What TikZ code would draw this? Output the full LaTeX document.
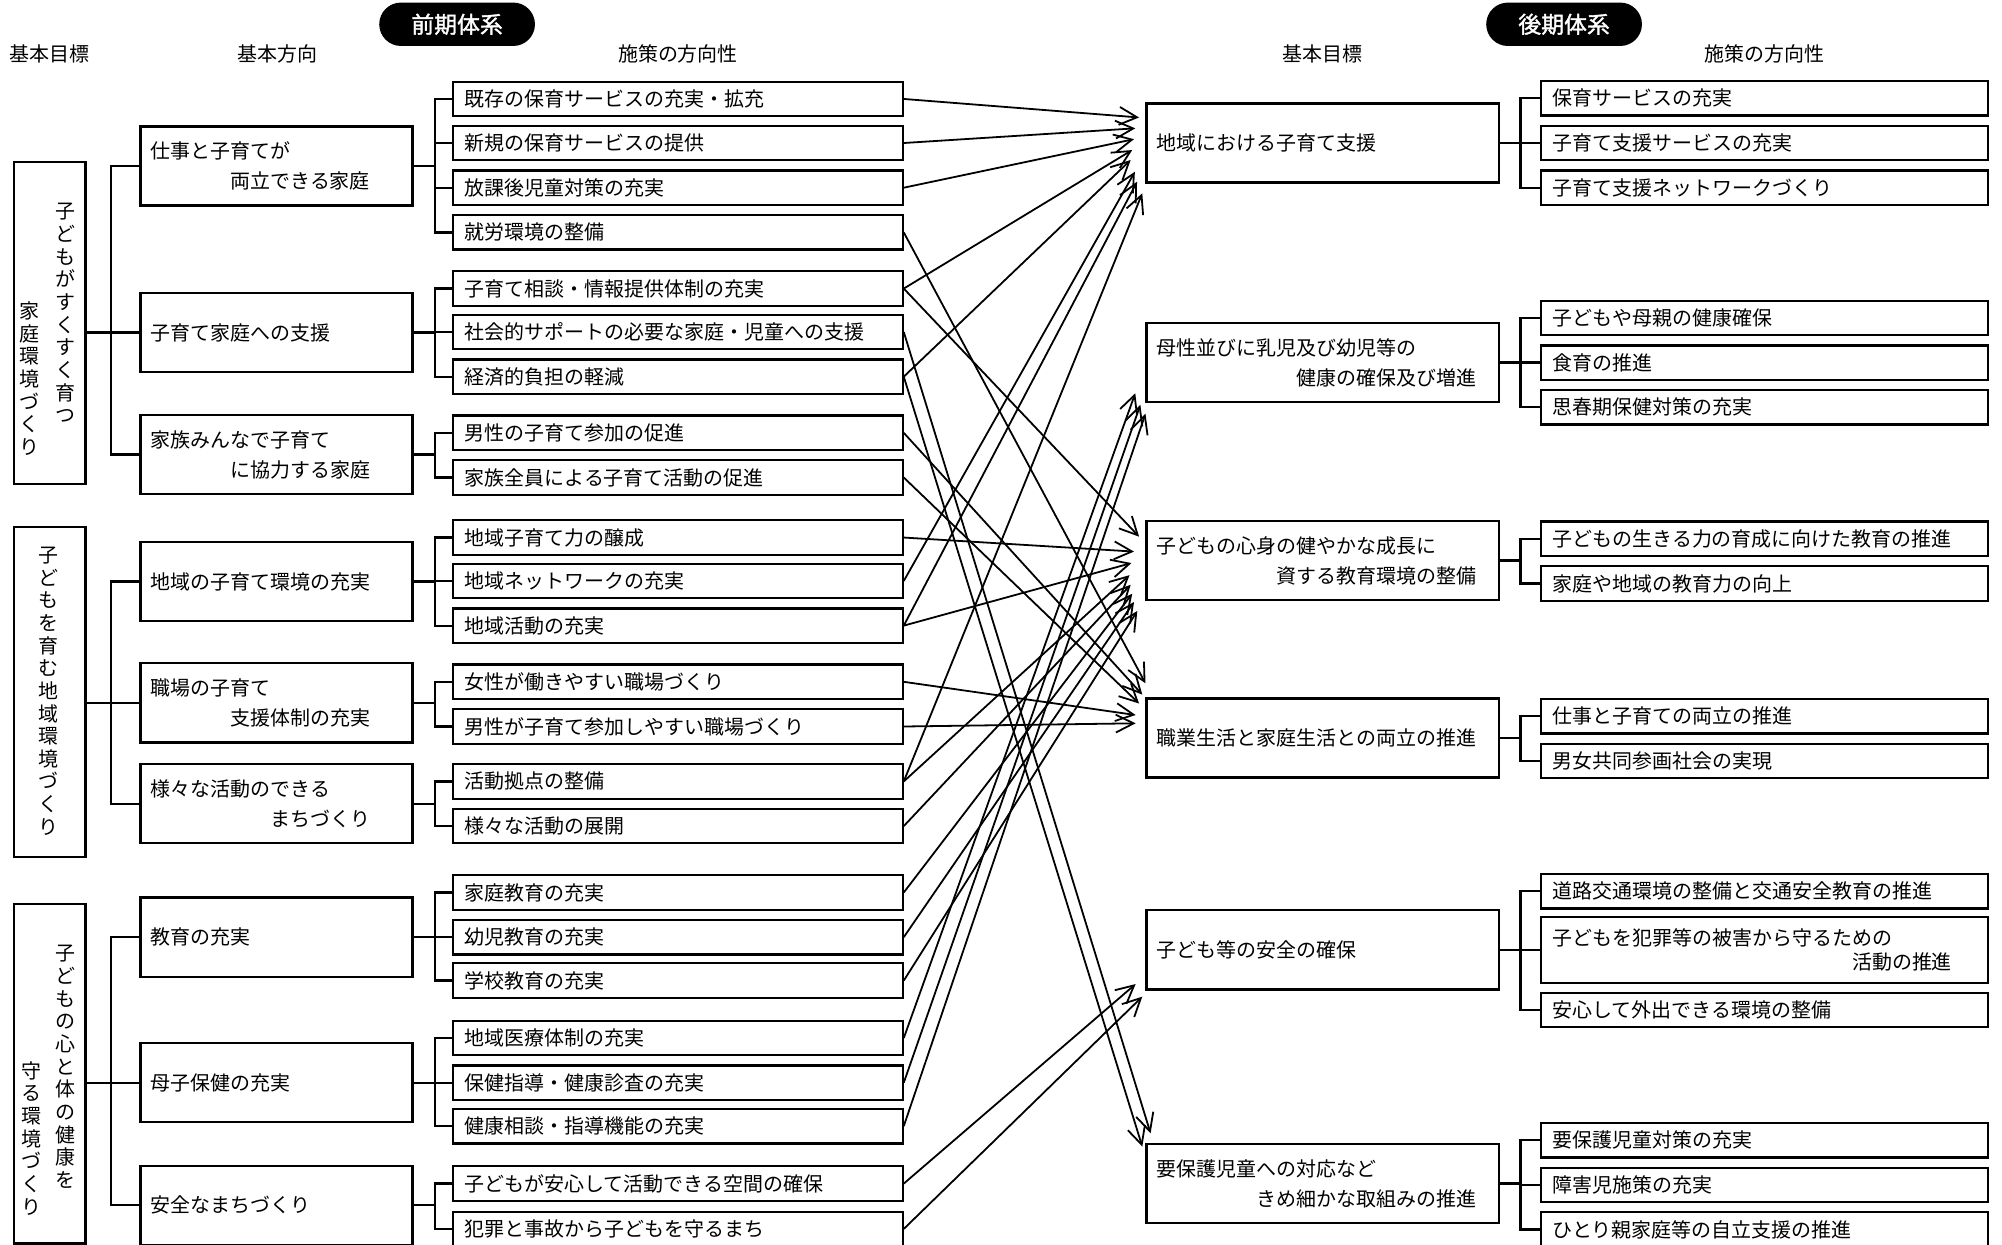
\documentclass[tikz,border=0pt]{standalone}
\usepackage{fontspec}
\setmainfont{Noto Sans CJK JP}
\newfontfamily\pillfont{Noto Sans CJK JP}[FakeBold=1.5]
\usepackage{tikz}
\usetikzlibrary{arrows.meta}

\begin{document}
\begin{tikzpicture}[x=0.02cm, y=-0.02cm,
    every node/.style={font=\fontsize{8.9}{13.4}\selectfont},
    goal/.style={draw, line width=1pt, minimum width=1.12cm, inner sep=0},
    tate/.style={align=center, inner sep=0, anchor=north, font=\fontsize{8.9}{10.1}\selectfont},
    dir/.style={draw, line width=1pt, minimum width=4.26cm, minimum height=1.24cm,
        text width=3.94cm, inner xsep=0.16cm, align=left},
    aim/.style={dir, minimum width=5.52cm, text width=5.2cm},
    pol/.style={draw, line width=1pt, minimum width=7.04cm, minimum height=0.54cm,
        text width=6.68cm, inner xsep=0.18cm, inner ysep=0, align=left},
    sub/.style={pol, minimum width=7.0cm, text width=6.64cm},
    pill/.style={fill=black, text=white, rounded corners=0.34cm, minimum width=2.44cm,
        minimum height=0.68cm, font=\pillfont\fontsize{10.2}{12}\selectfont},
    conn/.style={line width=1pt},
    arr/.style={line width=0.8pt, -{Straight Barb[length=2.8mm, width=2.8mm]}}]

    \useasboundingbox (0,0) rectangle (1568,975);

    % Headings
    \node[pill] (pre) at (358,19) {前期体系};
    \node[pill] (post) at (1225,19) {後期体系};
    \node (hgoalL) at (39,42) {基本目標};
    \node (hdirL) at (217,42) {基本方向};
    \node (hpolL) at (531,42) {施策の方向性};
    \node (hgoalR) at (1036,42) {基本目標};
    \node (hpolR) at (1382,42) {施策の方向性};

    % Basic goals (vertical text)
    \node[goal, minimum height=5.04cm] (G1) at (39,253) {};
    \node[tate] (G1a) at (51,159) {子\\ど\\も\\が\\す\\く\\す\\く\\育\\つ};
    \node[tate] (G1b) at (23,236) {家\\庭\\環\\境\\づ\\く\\り};
    \node[goal, minimum height=5.16cm] (G2) at (39,542) {};
    \node[tate] (G2a) at (38,428) {子\\ど\\も\\を\\育\\む\\地\\域\\環\\境\\づ\\く\\り};
    \node[goal, minimum height=5.32cm] (G3) at (39,841) {};
    \node[tate] (G3a) at (51,740) {子\\ど\\も\\の\\心\\と\\体\\の\\健\\康\\を};
    \node[tate] (G3b) at (25,831) {守\\る\\環\\境\\づ\\く\\り};

    % Basic directions
    \node[dir] (K1) at (216.5,130) {仕事と子育てが\\\hspace*{4em}両立できる家庭};
    \node[dir] (K2) at (216.5,260.5) {子育て家庭への支援};
    \node[dir] (K3) at (216.5,356) {家族みんなで子育て\\\hspace*{4em}に協力する家庭};
    \node[dir] (K4) at (216.5,455.5) {地域の子育て環境の充実};
    \node[dir] (K5) at (216.5,550.5) {職場の子育て\\\hspace*{4em}支援体制の充実};
    \node[dir] (K6) at (216.5,629.5) {様々な活動のできる\\\hspace*{6em}まちづくり};
    \node[dir] (K7) at (216.5,734) {教育の充実};
    \node[dir] (K8) at (216.5,848) {母子保健の充実};
    \node[dir] (K9) at (216.5,944) {安全なまちづくり};

    % Policy directions (first period)
    \node[pol] (S1) at (531,77.5) {既存の保育サービスの充実・拡充};
    \node[pol] (S2) at (531,112) {新規の保育サービスの提供};
    \node[pol] (S3) at (531,147) {放課後児童対策の充実};
    \node[pol] (S4) at (531,182) {就労環境の整備};
    \node[pol] (S5) at (531,226) {子育て相談・情報提供体制の充実};
    \node[pol] (S6) at (531,260) {社会的サポートの必要な家庭・児童への支援};
    \node[pol] (S7) at (531,295) {経済的負担の軽減};
    \node[pol] (S8) at (531,339) {男性の子育て参加の促進};
    \node[pol] (S9) at (531,374) {家族全員による子育て活動の促進};
    \node[pol] (S10) at (531,421) {地域子育て力の醸成};
    \node[pol] (S11) at (531,455) {地域ネットワークの充実};
    \node[pol] (S12) at (531,490) {地域活動の充実};
    \node[pol] (S13) at (531,534) {女性が働きやすい職場づくり};
    \node[pol] (S14) at (531,569) {男性が子育て参加しやすい職場づくり};
    \node[pol] (S15) at (531,612) {活動拠点の整備};
    \node[pol] (S16) at (531,647) {様々な活動の展開};
    \node[pol] (S17) at (531,699) {家庭教育の充実};
    \node[pol] (S18) at (531,734) {幼児教育の充実};
    \node[pol] (S19) at (531,768) {学校教育の充実};
    \node[pol] (S20) at (531,813) {地域医療体制の充実};
    \node[pol] (S21) at (531,848) {保健指導・健康診査の充実};
    \node[pol] (S22) at (531,882) {健康相談・指導機能の充実};
    \node[pol] (S23) at (531,927) {子どもが安心して活動できる空間の確保};
    \node[pol] (S24) at (531,962.5) {犯罪と事故から子どもを守るまち};

    % Basic goals (second period)
    \node[aim] (TA) at (1036,112) {地域における子育て支援};
    \node[aim] (TB) at (1036,284) {母性並びに乳児及び幼児等の\\\hspace*{7em}健康の確保及び増進};
    \node[aim] (TC) at (1036,439) {子どもの心身の健やかな成長に\\\hspace*{6em}資する教育環境の整備};
    \node[aim] (TD) at (1036,578) {職業生活と家庭生活との両立の推進};
    \node[aim] (TE) at (1036,744) {子ども等の安全の確保};
    \node[aim] (TF) at (1036,927) {要保護児童への対応など\\\hspace*{5em}きめ細かな取組みの推進};

    % Policy directions (second period)
    \node[sub] (R1) at (1382,77) {保育サービスの充実};
    \node[sub] (R2) at (1382,112) {子育て支援サービスの充実};
    \node[sub] (R3) at (1382,147) {子育て支援ネットワークづくり};
    \node[sub] (R4) at (1382,249) {子どもや母親の健康確保};
    \node[sub] (R5) at (1382,284) {食育の推進};
    \node[sub] (R6) at (1382,319) {思春期保健対策の充実};
    \node[sub] (R7) at (1382,422) {子どもの生きる力の育成に向けた教育の推進};
    \node[sub] (R8) at (1382,457) {家庭や地域の教育力の向上};
    \node[sub] (R9) at (1382,561) {仕事と子育ての両立の推進};
    \node[sub] (R10) at (1382,596) {男女共同参画社会の実現};
    \node[sub] (R11) at (1382,698) {道路交通環境の整備と交通安全教育の推進};
    \node[sub, minimum height=1.04cm, font=\fontsize{8.9}{10.5}\selectfont] (R12) at (1382,744)
        {子どもを犯罪等の被害から守るための\\\hspace*{15em}活動の推進};
    \node[sub] (R13) at (1382,791) {安心して外出できる環境の整備};
    \node[sub] (R14) at (1382,893) {要保護児童対策の充実};
    \node[sub] (R15) at (1382,928) {障害児施策の充実};
    \node[sub] (R16) at (1382,963) {ひとり親家庭等の自立支援の推進};

    % Tree lines, first period
    \foreach \g/\a/\m/\b in {G1/K1/K2/K3, G2/K4/K5/K6, G3/K7/K8/K9} {
        \draw[conn] (\g.east |- \m.west) -- (\m.west);
        \draw[conn] (\a.west) -- ++(-22,0) |- (\b.west);
    }
    \foreach \p/\c in {K1/S1,K1/S2,K1/S3,K1/S4,K2/S5,K2/S6,K2/S7,K3/S8,K3/S9,
        K4/S10,K4/S11,K4/S12,K5/S13,K5/S14,K6/S15,K6/S16,K7/S17,K7/S18,K7/S19,
        K8/S20,K8/S21,K8/S22,K9/S23,K9/S24}
        \draw[conn] (\p.east) -- ++(17,0) |- (\c.west);

    % Tree lines, second period
    \foreach \p/\c in {TA/R1,TA/R2,TA/R3,TB/R4,TB/R5,TB/R6,TC/R7,TC/R8,TD/R9,TD/R10,
        TE/R11,TE/R12,TE/R13,TF/R14,TF/R15,TF/R16}
        \draw[conn] (\p.east) -- ++(16,0) |- (\c.west);

    % Arrows from first to second period
    \foreach \s/\t/\dx/\dy in {S1/TA/-5/-20, S2/TA/-8/-11.5, S3/TA/-9/-3, S5/TA/-10.4/5.5,
        S7/TA/-11.6/13.3, S11/TA/-8.3/22.5, S12/TA/-6.6/30.3, S15/TA/-2.5/39.4,
        S20/TB/-8/24, S21/TB/-4/33, S22/TB/0/40,
        S5/TC/-5/-18.7, S10/TC/-9/-7, S12/TC/-11/2, S15/TC/-12.5/11.5, S16/TC/-11.6/19,
        S17/TC/-10.4/26, S18/TC/-9/32.5, S19/TC/-6.4/39.5,
        S4/TD/0/-42.8, S8/TD/-2.5/-34, S9/TD/-5/-27, S13/TD/-7.7/-18, S14/TD/-7.7/-11.5,
        S23/TE/-7.7/26.7, S24/TE/-2.5/36.6,
        S6/TF/4/-39.4, S7/TF/-2.5/-29}
        \draw[arr] (\s.east) -- ([shift={(\dx,\dy)}]\t.west);
\end{tikzpicture}
\end{document}
